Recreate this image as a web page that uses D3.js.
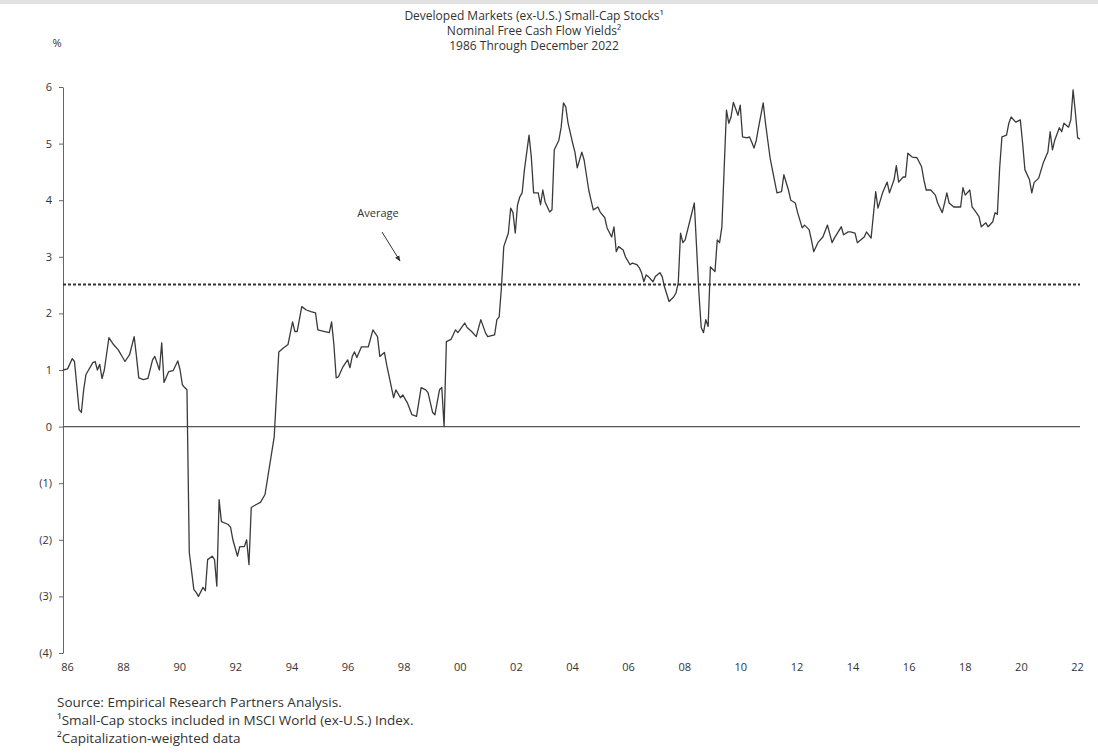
<!DOCTYPE html>
<html>
<head>
<meta charset="utf-8">
<script src="https://cdn.jsdelivr.net/npm/d3@7"></script>
<style>
  html, body { margin: 0; padding: 0; background: #fff; }
  svg { display: block; }
  text { font-family: "Open Sans", "Liberation Sans", sans-serif; fill: #333; }
</style>
</head>
<body>
<svg id="chart" width="1098" height="755"></svg>
<script>
// ---- Data (monthly index from Jan 1986 = 0; values in %) ----
const months = [0,2,4,5,7,8,9,10,13,14,15,16,17,18,20,22,24,26,27,29,31,32,33,35,37,39,40,42,43,44,46,48,50,51,52,53,54,
55,57,58,59,61,62,63,65,66,67,68,69,72,73,74,76,77,79,80,81,82,84,86,88,92,94,96,98,100,101,102,104,106,108,110,111,114,116,117,118,119,120,122,124,125,126,127,128,130,133,135,137,138,140,141,144,145,147,148,150,152,154,156,158,159,161,162,164,165,166,
167,169,171,172,175,176,178,180,182,184,185,188,189,190,191,192,194,195,196,197,198,199,200,201,203,204,205,207,208,209,210,212,213,214,216,217,218,219,220,222,223,224,226,227,229,230,231,233,234,236,237,239,240,241,242,244,245,247,248,250,251,252,253,254,255,257,258,260,261,262,264,266,267,268,269,270,271,275,277,278,279,280,281,282,284,285,286,287,
289,290,291,292,294,295,296,298,299,300,301,302,303,305,306,308,309,311,313,314,316,317,319,320,322,323,325,326,327,329,331,333,335,336,339,340,342,343,345,346,349,350,352,354,355,357,359,360,362,363,364,366,367,368,370,372,374,375,376,378,380,381,383,384,385,386,388,391,392,393,395,396,397,399,400,402,403,405,406,407,408,409,411,412,413,415,417,418,419,421,422,423,425,427,429,430,431,432,434,435,436,438,439,440,441,442,443];
const values = [1.0,1.02,1.2,1.15,0.3,0.25,0.65,0.92,1.13,1.15,1.0,1.1,0.85,1.0,1.57,1.45,1.36,1.22,1.15,1.27,1.59,1.24,0.86,0.83,0.85,1.18,1.24,1.0,1.48,0.78,0.97,0.99,1.16,1.0,0.74,0.69,0.65,
-2.22,-2.88,-2.93,-3.0,-2.84,-2.9,-2.35,-2.29,-2.35,-2.82,-1.29,-1.68,-1.73,-1.78,-2.0,-2.29,-2.12,-2.12,-2.0,-2.44,-1.43,-1.38,-1.34,-1.2,-0.18,1.32,1.39,1.45,1.85,1.68,1.68,2.12,2.06,2.03,2.01,1.71,1.68,1.66,1.85,1.45,0.86,0.88,1.06,1.18,1.04,1.24,1.32,1.22,1.41,1.41,1.71,1.59,1.24,1.31,1.09,0.51,0.65,0.51,0.56,0.42,0.21,0.18,0.69,0.65,0.6,0.25,0.21,0.65,0.69,0.0,
1.5,1.54,1.71,1.66,1.83,1.75,1.68,1.59,1.89,1.66,1.59,1.62,1.89,1.94,2.47,3.18,3.42,3.86,3.78,3.42,3.92,4.06,4.13,4.54,5.15,4.76,4.13,4.13,3.92,4.18,3.97,3.79,3.83,4.89,5.06,5.29,5.72,5.65,5.36,5.01,4.85,4.57,4.85,4.71,4.18,4.0,3.83,3.88,3.79,3.69,3.51,3.35,3.53,3.09,3.18,3.12,3.0,2.86,2.89,2.86,2.81,2.72,2.56,2.68,2.65,2.56,2.65,2.72,2.65,2.47,2.21,2.29,2.36,2.54,3.42,3.25,3.3,3.95,2.36,1.75,1.66,1.89,1.77,2.82,2.74,3.3,3.25,3.53,
5.59,5.36,5.47,5.73,5.5,5.68,5.12,5.1,5.12,5.03,4.92,5.06,5.29,5.72,5.36,4.75,4.54,4.13,4.15,4.45,4.18,4.0,3.95,3.78,3.51,3.56,3.48,3.3,3.09,3.26,3.35,3.56,3.25,3.33,3.53,3.39,3.44,3.44,3.42,3.25,3.35,3.44,3.33,4.15,3.86,4.13,4.32,4.13,4.36,4.61,4.32,4.41,4.41,4.83,4.76,4.75,4.59,4.36,4.18,4.18,4.09,3.95,3.78,3.95,4.13,3.95,3.88,3.88,4.22,4.09,4.18,3.88,3.83,3.71,3.53,3.6,3.53,3.62,3.78,3.75,4.57,5.12,5.15,5.36,5.47,5.38,5.42,5.01,4.54,4.36,4.13,4.31,4.39,4.66,4.85,5.21,4.89,5.06,5.28,5.21,5.36,5.29,5.42,5.95,5.54,5.1,5.08];
const averageValue = 2.51;
const yTickValues = [6,5,4,3,2,1,0,-1,-2,-3,-4];
const xTickYears = [1986,1988,1990,1992,1994,1996,1998,2000,2002,2004,2006,2008,2010,2012,2014,2016,2018,2020,2022];
const titleLines = ["Developed Markets (ex-U.S.) Small-Cap Stocks¹", "Nominal Free Cash Flow Yields²", "1986 Through December 2022"];
const footnotes = ["Source:  Empirical Research Partners Analysis.", "¹Small-Cap stocks included in MSCI World (ex-U.S.) Index.", "²Capitalization-weighted data"];

const svg = d3.select("#chart");
const W = 1098, H = 755;

// light frame band at the top
svg.append("rect").attr("x",0).attr("y",0).attr("width",W).attr("height",4).attr("fill","#e2e2e2");

const x = d3.scaleLinear().domain([0, 443]).range([63, 1080]);
const xLab = d3.scaleLinear().domain([1986, 2022]).range([67, 1077]);
const y = d3.scaleLinear().domain([-4, 6]).range([653, 87]);

// title
svg.append("g").selectAll("text").data(titleLines).join("text")
  .attr("x", 534).attr("y", (d,i) => 20 + i*15)
  .attr("text-anchor","middle").attr("font-size","12px").text(d => d);

// % label
svg.append("text").attr("x",57).attr("y",47).attr("text-anchor","middle").attr("font-size","11px").text("%");

// y axis
const yAxis = d3.axisLeft(y).tickValues(yTickValues).tickSize(4).tickSizeOuter(0).tickPadding(7)
  .tickFormat(d => d < 0 ? "(" + Math.abs(d) + ")" : String(d));
const gy = svg.append("g").attr("transform","translate(63,0)").call(yAxis);
gy.select(".domain").attr("stroke","#666");
gy.selectAll(".tick line").attr("stroke","#666");
gy.selectAll(".tick text").attr("font-size","11px").attr("fill","#333").attr("font-family","\"Open Sans\", sans-serif");

// x axis labels (no line)
const xAxis = d3.axisBottom(xLab).tickValues(xTickYears).tickSize(0).tickPadding(0)
  .tickFormat(d => String(d % 100).padStart(2, "0"));
const gx = svg.append("g").attr("transform","translate(0,663)").call(xAxis);
gx.select(".domain").remove();
gx.selectAll(".tick text").attr("font-size","11px").attr("fill","#333").attr("font-family","\"Open Sans\", sans-serif");

// zero line
svg.append("line").attr("x1",x(0)).attr("x2",x(443)).attr("y1",y(0)).attr("y2",y(0))
  .attr("stroke","#555").attr("stroke-width",1.2);

// average dashed line
svg.append("line").attr("x1",x(0)).attr("x2",x(443)).attr("y1",y(averageValue)).attr("y2",y(averageValue))
  .attr("stroke","#333").attr("stroke-width",2).attr("stroke-dasharray","3,2");

// data line
const data = months.map((m,i) => ({m, v: values[i]}));
svg.append("path").datum(data)
  .attr("fill","none").attr("stroke","#3a3a3a").attr("stroke-width",1.3).attr("stroke-linejoin","round")
  .attr("d", d3.line().x(d => x(d.m)).y(d => y(d.v)));

// average annotation
svg.append("defs").append("marker").attr("id","arr").attr("viewBox","0 0 10 10")
  .attr("refX",9).attr("refY",5).attr("markerWidth",6).attr("markerHeight",6).attr("orient","auto")
  .append("path").attr("d","M0,1 L10,5 L0,9 Z").attr("fill","#333");
svg.append("text").attr("x",378).attr("y",217).attr("text-anchor","middle").attr("font-size","11px").text("Average");
svg.append("line").attr("x1",382).attr("y1",232).attr("x2",400).attr("y2",261)
  .attr("stroke","#333").attr("stroke-width",1).attr("marker-end","url(#arr)");

// footnotes
svg.append("g").selectAll("text").data(footnotes).join("text")
  .attr("x",57).attr("y",(d,i) => 707 + i*18).attr("font-size","13.5px").text(d => d);
</script>
</body>
</html>
